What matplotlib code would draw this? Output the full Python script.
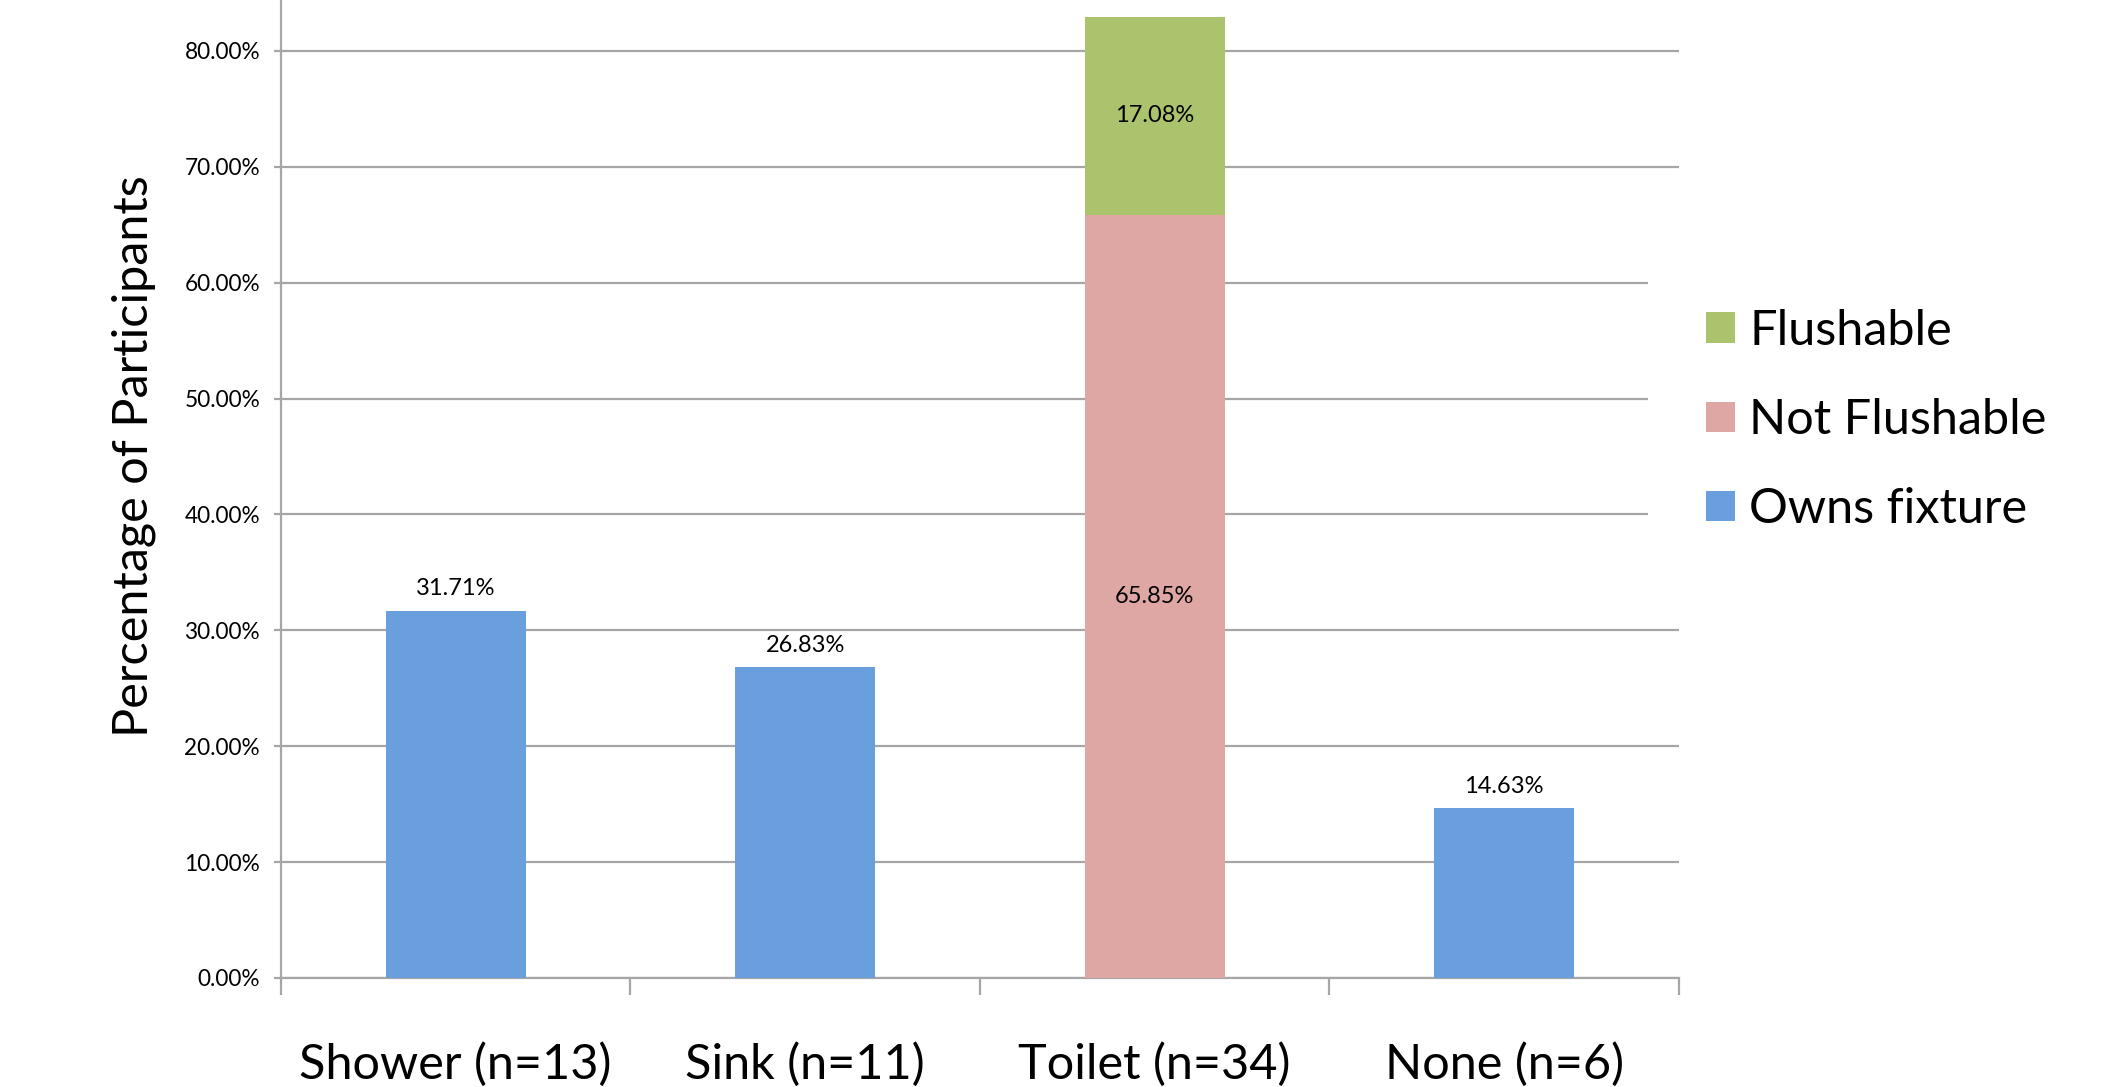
import matplotlib
matplotlib.use("Agg")
import matplotlib.pyplot as plt
from matplotlib.ticker import FuncFormatter, FixedLocator
import numpy as np

plt.rcParams['font.family'] = ['Lato', 'DejaVu Sans']

# fixture ownership among participants (percent)
categories = ['Shower (n=13)', 'Sink (n=11)', 'Toilet (n=34)', 'None (n=6)']
owns_fixture = [31.71, 26.83, 0.0, 14.63]
not_flushable = [0.0, 0.0, 65.85, 0.0]
flushable = [0.0, 0.0, 17.08, 0.0]

blue = '#689fdc'
pink = '#dfa7a3'
green = '#abc36c'
grid_gray = '#a6a6a6'

fig = plt.figure(figsize=(21.01, 10.87), dpi=100)
ax = fig.add_axes([0.1337, 0.1003, 0.6654, 0.8997])

x = np.arange(len(categories))
w = 0.4
b_owns = ax.bar(x, owns_fixture, w, color=blue, label='Owns fixture', zorder=3)
b_not = ax.bar(x, not_flushable, w, bottom=owns_fixture, color=pink,
               label='Not Flushable', zorder=3)
bottom2 = np.array(owns_fixture) + np.array(not_flushable)
b_fl = ax.bar(x, flushable, w, bottom=bottom2, color=green,
              label='Flushable', zorder=3)

def pct_labels(vals):
    return ['%.2f%%' % v if v > 0 else '' for v in vals]

ax.bar_label(b_owns, labels=pct_labels(owns_fixture), padding=8, fontsize=17)
ax.bar_label(b_not, labels=pct_labels(not_flushable), label_type='center', fontsize=17)
ax.bar_label(b_fl, labels=pct_labels(flushable), label_type='center', fontsize=17)

ax.set_xlim(-0.5, len(categories) - 0.5)
ax.set_ylim(0, 84.4)
ax.set_yticks(np.arange(0, 81, 10))
ax.yaxis.set_major_formatter(FuncFormatter(lambda v, p: '%.2f%%' % v))
ax.yaxis.grid(True, color=grid_gray, linewidth=1.6, zorder=0)
ax.set_axisbelow(True)

# category labels at bar centers, divider ticks between categories
ax.set_xticks(x)
ax.set_xticklabels(categories, fontsize=35)
ax.tick_params(axis='x', which='major', length=0, pad=46)
ax.xaxis.set_minor_locator(FixedLocator(np.arange(-0.5, len(categories), 1.0)))
ax.tick_params(axis='x', which='minor', length=12, width=1.6, color=grid_gray)
ax.tick_params(axis='y', length=5, width=1.6, color=grid_gray, labelsize=16.3, pad=10)

for side in ['top', 'right']:
    ax.spines[side].set_visible(False)
for side in ['left', 'bottom']:
    ax.spines[side].set_color(grid_gray)
    ax.spines[side].set_linewidth(1.6)

ax.set_ylabel('Percentage of Participants', fontsize=35)
ax.yaxis.set_label_coords(-0.089, 0.534)

handles = [b_fl, b_not, b_owns]
leg = ax.legend(handles, [h.get_label() for h in handles],
                loc='upper left', bbox_to_anchor=(0.978, 0.744),
                fontsize=35, frameon=True, facecolor='white', edgecolor='none',
                framealpha=1, handlelength=0.58, handleheight=0.58,
                handletextpad=0.3, labelspacing=0.93, borderpad=1.2,
                borderaxespad=0)
leg.set_zorder(5)

fig.savefig('out.png', dpi=100)
